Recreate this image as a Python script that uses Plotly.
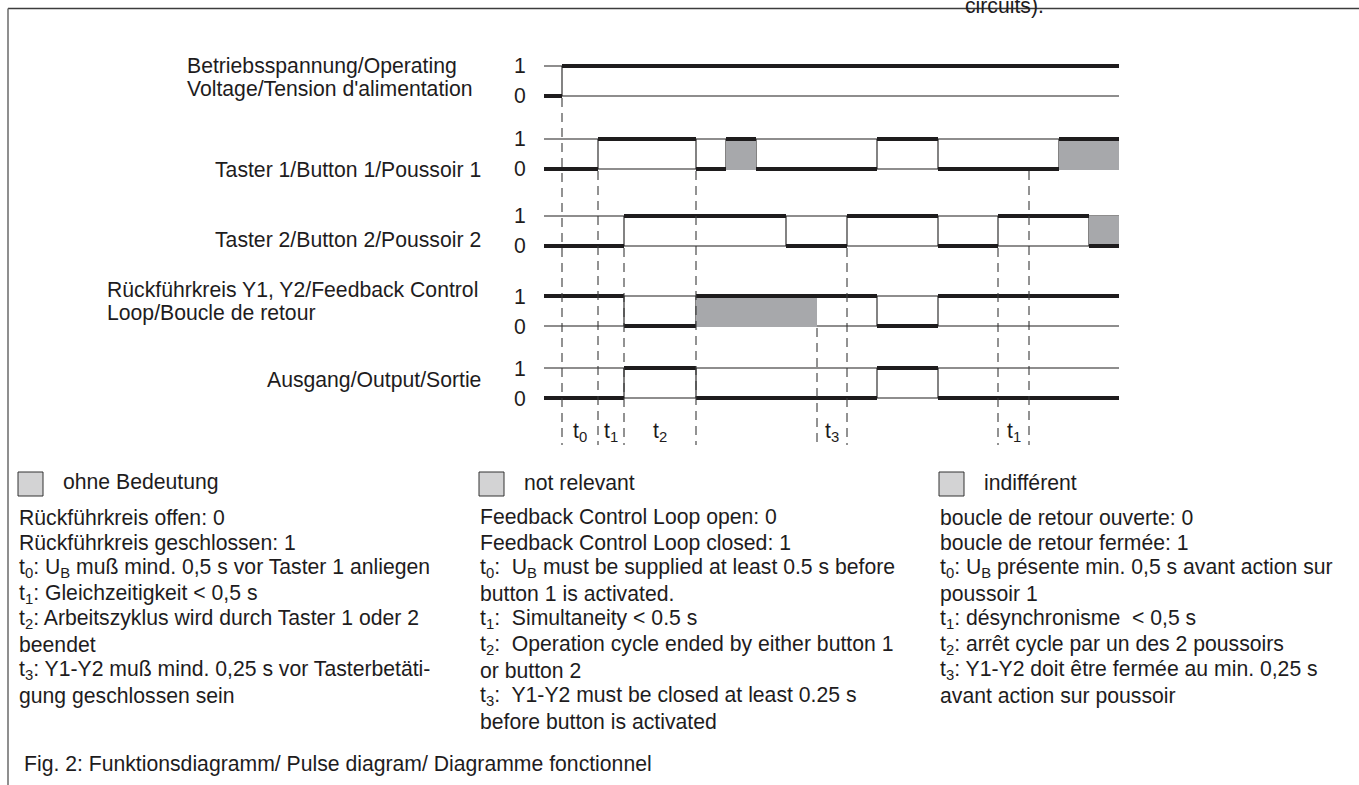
import plotly.graph_objects as go

W, H = 1359, 785

# ---------------- data (time in arbitrary units, level 0/1) ----------------
T_END = 57.5
VOLT_EDGES = [0, 1.8, T_END]
VOLT_LEVELS = [0, 1]
VOLT_DONTCARE = []

T1_EDGES = [0, 5.4, 15.2, 18.2, 21.2, 33.3, 39.4, 51.5, T_END]
T1_LEVELS = [0, 1, 0, 1, 0, 1, 0, 1]
T1_DONTCARE = [(18.2, 21.2), (51.5, T_END)]

T2_EDGES = [0, 8.0, 24.2, 30.3, 39.4, 45.4, 54.5, T_END]
T2_LEVELS = [0, 1, 0, 1, 0, 1, 0]
T2_DONTCARE = [(54.5, T_END)]

FB_EDGES = [0, 8.0, 15.2, 33.3, 39.4, T_END]
FB_LEVELS = [1, 0, 1, 0, 1]
FB_DONTCARE = [(15.2, 27.3)]

OUT_EDGES = [0, 8.0, 15.2, 33.3, 39.4, T_END]
OUT_LEVELS = [0, 1, 0, 1, 0]

CHANNEL_LABELS = [
    ["Betriebsspannung/Operating", "Voltage/Tension d'alimentation"],
    ["Taster 1/Button 1/Poussoir 1"],
    ["Taster 2/Button 2/Poussoir 2"],
    ["Rückführkreis Y1, Y2/Feedback Control", "Loop/Boucle de retour"],
    ["Ausgang/Output/Sortie"],
]

MARK_TIMES = [1.8, 5.4, 8.0, 15.2, 27.3, 30.3, 45.4, 48.5]
MARK_FROM_CHANNEL = [0, 1, 2, 1, 3, 2, 2, 1]
INTERVALS = [(1.8, 5.4, "0"), (5.4, 8.0, "1"), (8.0, 15.2, "2"),
             (27.3, 30.3, "3"), (45.4, 48.5, "1")]

COL1 = ["Rückführkreis offen: 0",
        "Rückführkreis geschlossen: 1",
        "t<sub>0</sub>: U<sub>B</sub> muß mind. 0,5 s vor Taster 1 anliegen",
        "t<sub>1</sub>: Gleichzeitigkeit < 0,5 s",
        "t<sub>2</sub>: Arbeitszyklus wird durch Taster 1 oder 2",
        "beendet",
        "t<sub>3</sub>: Y1-Y2 muß mind. 0,25 s vor Tasterbetäti-",
        "gung geschlossen sein"]
COL2 = ["Feedback Control Loop open: 0",
        "Feedback Control Loop closed: 1",
        "t<sub>0</sub>:\u00a0 U<sub>B</sub> must be supplied at least 0.5 s before",
        "button 1 is activated.",
        "t<sub>1</sub>:\u00a0 Simultaneity < 0.5 s",
        "t<sub>2</sub>:\u00a0 Operation cycle ended by either button 1",
        "or button 2",
        "t<sub>3</sub>:\u00a0 Y1-Y2 must be closed at least 0.25 s",
        "before button is activated"]
COL3 = ["boucle de retour ouverte: 0",
        "boucle de retour fermée: 1",
        "t<sub>0</sub>: U<sub>B</sub> présente min. 0,5 s avant action sur",
        "poussoir 1",
        "t<sub>1</sub>: désynchronisme\u00a0 < 0,5 s",
        "t<sub>2</sub>: arrêt cycle par un des 2 poussoirs",
        "t<sub>3</sub>: Y1-Y2 doit être fermée au min. 0,25 s",
        "avant action sur poussoir"]
LEGEND_TEXT = ["ohne Bedeutung", "not relevant", "indifférent"]
CAPTION = "Fig. 2: Funktionsdiagramm/ Pulse diagram/ Diagramme fonctionnel"

# ---------------- layout constants (page pixels) ----------------
CH_BASE = [96, 169, 246, 326, 398]     # y of level 0
LEVEL_H = 30                            # px between level 0 and 1
MARK_BOTTOM = 445
X0_PX, PX_PER_T = 544, 10.0
INK = "#1e1c1d"
GRAY = "#a7a8ab"
FONT = "Liberation Sans, Arial, Helvetica, sans-serif"
FS = 21.2

channels = [
    (VOLT_EDGES, VOLT_LEVELS, VOLT_DONTCARE),
    (T1_EDGES, T1_LEVELS, T1_DONTCARE),
    (T2_EDGES, T2_LEVELS, T2_DONTCARE),
    (FB_EDGES, FB_LEVELS, FB_DONTCARE),
    (OUT_EDGES, OUT_LEVELS, []),
]


def ylev(ch, level):
    return CH_BASE[ch] - LEVEL_H * level


fig = go.Figure()

# thin reference levels and transitions
for ch, (edges, levels, dc) in enumerate(channels):
    xs, ys = [], []
    for lv in (0, 1):
        xs += [edges[0], edges[-1], None]
        ys += [ylev(ch, lv), ylev(ch, lv), None]
    for i in range(1, len(levels)):
        if levels[i] != levels[i - 1]:
            xs += [edges[i], edges[i], None]
            ys += [ylev(ch, 0), ylev(ch, 1), None]
    fig.add_trace(go.Scatter(x=xs, y=ys, mode="lines",
                             line=dict(color=INK, width=1.1),
                             hoverinfo="skip", showlegend=False))

# gray "don't care" areas (cover the thin level lines)
for ch, (edges, levels, dc) in enumerate(channels):
    for (a, b) in dc:
        y0, y1 = ylev(ch, 0) + 1, ylev(ch, 1)
        fig.add_trace(go.Scatter(
            x=[a, b, b, a, a], y=[y0, y0, y1, y1, y0],
            mode="lines", fill="toself", fillcolor=GRAY, line=dict(width=0),
            hoverinfo="skip", showlegend=False))

# thick signal segments
for ch, (edges, levels, dc) in enumerate(channels):
    xs, ys = [], []
    for i, lv in enumerate(levels):
        xs += [edges[i], edges[i + 1], None]
        ys += [ylev(ch, lv), ylev(ch, lv), None]
    fig.add_trace(go.Scatter(x=xs, y=ys, mode="lines",
                             line=dict(color=INK, width=4),
                             hoverinfo="skip", showlegend=False))

# dashed time markers
mx, my = [], []
for t, ch in zip(MARK_TIMES, MARK_FROM_CHANNEL):
    mx += [t, t, None]
    my += [ylev(ch, 0) + 2, MARK_BOTTOM, None]
fig.add_trace(go.Scatter(x=mx, y=my, mode="lines",
                         line=dict(color="#3a3a3a", width=1.1, dash="9px,6px"),
                         hoverinfo="skip", showlegend=False))

annotations = []


def txt(x, y, text, size=FS, xanchor="left", yanchor="middle", xref="paper"):
    annotations.append(dict(
        x=x / W if xref == "paper" else x, y=1 - y / H, xref=xref, yref="paper",
        text=text, showarrow=False, xanchor=xanchor, yanchor=yanchor, align="left",
        font=dict(family=FONT, size=size, color=INK)))


# level labels
for ch in range(5):
    txt(520, ylev(ch, 1), "1", xanchor="center")
    txt(520, ylev(ch, 0), "0", xanchor="center")

# channel labels
LABEL_POS = [
    [(185, 66, "left"), (185, 89, "left")],
    [(483, 170, "right")],
    [(483, 240, "right")],
    [(105, 290, "left"), (105, 313, "left")],
    [(483, 380, "right")],
]
for lines, poss in zip(CHANNEL_LABELS, LABEL_POS):
    for line, (x, y, anc) in zip(lines, poss):
        txt(x, y, line, xanchor=anc)

# interval labels
for a, b, s in INTERVALS:
    txt((a + b) / 2, 432, "t<sub>" + s + "</sub>", xanchor="center", xref="x")

# legend boxes + text columns
COL_X = [17, 478, 938]
for cx, lt in zip(COL_X, LEGEND_TEXT):
    fig.add_shape(type="rect", xref="paper", yref="paper",
                  x0=(cx + 1) / W, x1=(cx + 26) / W, y0=1 - 496 / H, y1=1 - 472 / H,
                  fillcolor="#d3d3d4", line=dict(color="#333333", width=1))
    txt(cx + 44, 482, lt)

for cx, lines in zip(COL_X, [COL1, COL2, COL3]):
    for i, line in enumerate(lines):
        txt(cx, 517 + 25.5 * i, line)

txt(22, 764, CAPTION)

# clipped text continuing from the page above
annotations.append(dict(x=963 / W, y=1 - 20 / H, xref="paper", yref="paper", text="circuits).",
                        showarrow=False, xanchor="left", yanchor="bottom",
                        font=dict(family=FONT, size=FS, color=INK)))

# frame lines
fig.add_shape(type="line", xref="paper", yref="paper", x0=8 / W, x1=1, y0=1 - 8.5 / H, y1=1 - 8.5 / H,
              line=dict(color="#3c3c3c", width=1.3))
fig.add_shape(type="line", xref="paper", yref="paper", x0=8 / W, x1=8 / W, y0=0, y1=1 - 8.5 / H,
              line=dict(color="#6a6a6a", width=1.5))

fig.update_layout(
    width=W, height=H, margin=dict(l=0, r=0, t=0, b=0),
    paper_bgcolor="white", plot_bgcolor="white",
    xaxis=dict(range=[-X0_PX / PX_PER_T, (W - X0_PX) / PX_PER_T], visible=False, domain=[0, 1]),
    yaxis=dict(range=[H, 0], visible=False, domain=[0, 1]),
    annotations=annotations, showlegend=False, hovermode=False,
)

fig.write_html("out.html", config={"displayModeBar": False},
               post_script="document.body.style.margin='0px';")
